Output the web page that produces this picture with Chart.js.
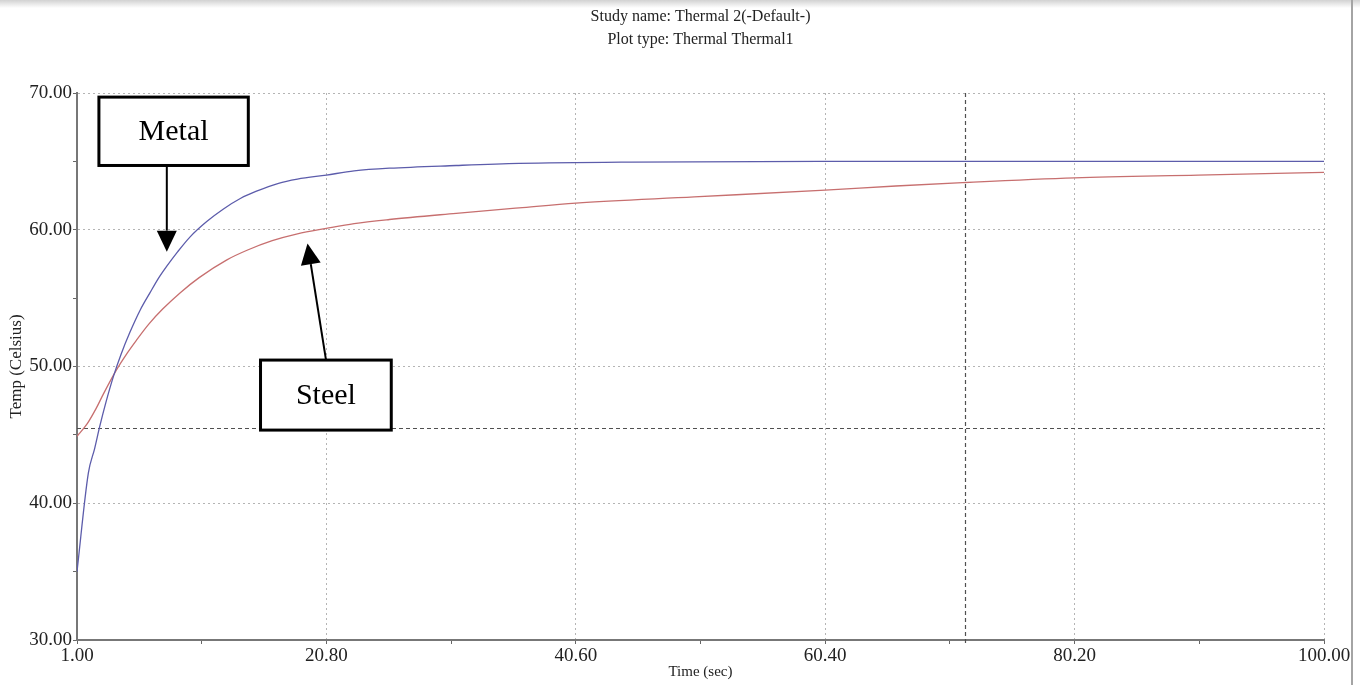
<!DOCTYPE html>
<html><head><meta charset="utf-8">
<script src="https://cdn.jsdelivr.net/npm/chart.js@4/dist/chart.umd.min.js"></script>
<style>
html,body{margin:0;padding:0;background:#fff;}
#wrap{position:relative;width:1360px;height:685px;overflow:hidden;background:#fff;}
#topshade{position:absolute;left:0;top:0;width:1360px;height:8px;background:linear-gradient(#d2d2d2,#ffffff);}
#rline{position:absolute;left:1351px;top:0;width:2px;height:685px;background:#a4a4a4;}
canvas{position:absolute;left:0;top:0;}
</style></head>
<body><div id="wrap"><div id="topshade"></div><div id="rline"></div><canvas id="c" width="1360" height="685"></canvas></div>
<script>
const titleLines = ['Study name: Thermal 2(-Default-)', 'Plot type: Thermal Thermal1'];
const xAxisTitle = 'Time (sec)';
const yAxisTitle = 'Temp (Celsius)';
const xTicksMajor = [1, 20.8, 40.6, 60.4, 80.2, 100];
const xTicksMinor = [10.9, 30.7, 50.5, 70.3, 90.1];
const yTicksMajor = [30, 40, 50, 60, 70];
const yTicksMinor = [35, 45, 55, 65];

const metalTime = [1, 1.9, 2.4, 2.8, 3.3, 3.9, 4.5, 5.2, 6.0, 6.8, 7.5, 8.1, 9.0, 10.0, 11.3, 12.6, 14.0, 15.2, 17.0, 18.5, 20.8, 23, 25.8, 31.1, 36.1, 45, 60, 80, 100];
const metalTemp = [35.0, 42.2, 44.0, 45.6, 47.4, 49.3, 50.9, 52.5, 54.1, 55.4, 56.5, 57.3, 58.4, 59.5, 60.6, 61.5, 62.3, 62.8, 63.4, 63.7, 64.0, 64.3, 64.5, 64.7, 64.85, 64.95, 65.0, 65.0, 65.0];

const steelTime = [1, 1.8, 2.5, 3.1, 4.1, 5.0, 5.7, 6.7, 7.8, 9.2, 10.7, 12.9, 14.5, 16.5, 18.5, 20.8, 23, 25.8, 31.1, 36.1, 40.6, 50, 60.4, 66, 71.3, 80.2, 90, 100];
const steelTemp = [44.9, 45.8, 46.9, 48.0, 49.7, 51.0, 51.9, 53.1, 54.2, 55.4, 56.5, 57.8, 58.5, 59.2, 59.7, 60.1, 60.45, 60.75, 61.2, 61.6, 61.95, 62.4, 62.9, 63.2, 63.45, 63.8, 64.0, 64.2];

const cursorTime = 71.5;
const cursorTemp = 45.5;

const calloutLabels = ['Metal', 'Steel'];

const SERIF = '"Liberation Serif", "Times New Roman", Times, serif';

// callouts in data coordinates: box corners, arrow start, arrow tip
const callouts = [
  { text: calloutLabels[0], box: [2.74, 69.7, 14.6, 64.7], from: [8.13, 64.7], to: [8.13, 58.4] },
  { text: calloutLabels[1], box: [15.57, 50.47, 25.95, 45.35], from: [20.77, 50.47], to: [19.3, 59.0] }
];

const isIn = (arr, v) => arr.some(a => Math.abs(a - v) < 1e-6);

const decorPlugin = {
  id: 'decor',
  beforeDatasetsDraw(chart) {
    const {ctx, chartArea: a, scales: {x, y}} = chart;
    ctx.save();
    ctx.strokeStyle = '#505050';
    ctx.lineWidth = 1.2;
    ctx.setLineDash([4, 3]);
    const px = Math.round(x.getPixelForValue(cursorTime)) + 0.5;
    const py = Math.round(y.getPixelForValue(cursorTemp)) + 0.5;
    ctx.beginPath();
    ctx.moveTo(px, a.top); ctx.lineTo(px, a.bottom + 3);
    ctx.moveTo(a.left, py); ctx.lineTo(a.right, py);
    ctx.stroke();
    ctx.restore();
  },
  afterDatasetsDraw(chart) {
    const {ctx, chartArea: a, scales: {x, y}} = chart;
    ctx.save();
    ctx.fillStyle = '#222';
    ctx.font = '16px ' + SERIF;
    ctx.textAlign = 'center';
    ctx.textBaseline = 'middle';
    const cx = (a.left + a.right) / 2;
    ctx.fillText(titleLines[0], cx, 17);
    ctx.fillText(titleLines[1], cx, 40);
    callouts.forEach(c => {
      const x1 = x.getPixelForValue(c.box[0]), y1 = y.getPixelForValue(c.box[1]);
      const x2 = x.getPixelForValue(c.box[2]), y2 = y.getPixelForValue(c.box[3]);
      ctx.fillStyle = '#fff';
      ctx.fillRect(x1, y1, x2 - x1, y2 - y1);
      ctx.strokeStyle = '#000';
      ctx.lineWidth = 3;
      ctx.setLineDash([]);
      ctx.strokeRect(x1, y1, x2 - x1, y2 - y1);
      ctx.fillStyle = '#000';
      ctx.font = '30px ' + SERIF;
      ctx.textAlign = 'center';
      ctx.textBaseline = 'middle';
      ctx.fillText(c.text, (x1 + x2) / 2, (y1 + y2) / 2 + 1);
      const fx = x.getPixelForValue(c.from[0]), fy = y.getPixelForValue(c.from[1]);
      const tx = x.getPixelForValue(c.to[0]), ty = y.getPixelForValue(c.to[1]);
      const ang = Math.atan2(ty - fy, tx - fx);
      const hl = 21, hw = 10;
      const bx = tx - hl * Math.cos(ang), by = ty - hl * Math.sin(ang);
      ctx.lineWidth = 2;
      ctx.beginPath(); ctx.moveTo(fx, fy); ctx.lineTo(bx, by); ctx.stroke();
      ctx.beginPath();
      ctx.moveTo(tx, ty);
      ctx.lineTo(bx + hw * Math.sin(ang), by - hw * Math.cos(ang));
      ctx.lineTo(bx - hw * Math.sin(ang), by + hw * Math.cos(ang));
      ctx.closePath(); ctx.fill();
    });
    ctx.restore();
  }
};

const tickFont = { family: SERIF, size: 19 };

new Chart(document.getElementById('c'), {
  type: 'line',
  data: {
    datasets: [
      {
        label: calloutLabels[0],
        data: metalTime.map((t, i) => ({ x: t, y: metalTemp[i] })),
        borderColor: '#5c5cab', borderWidth: 1.3, pointRadius: 0,
        cubicInterpolationMode: 'monotone', fill: false
      },
      {
        label: calloutLabels[1],
        data: steelTime.map((t, i) => ({ x: t, y: steelTemp[i] })),
        borderColor: '#c76f6f', borderWidth: 1.3, pointRadius: 0,
        cubicInterpolationMode: 'monotone', fill: false
      }
    ]
  },
  options: {
    responsive: false,
    animation: false,
    devicePixelRatio: 1,
    layout: { padding: { left: 0, top: 93, right: 36, bottom: 0 } },
    plugins: { legend: { display: false }, tooltip: { enabled: false }, title: { display: false } },
    scales: {
      x: {
        type: 'linear', min: 1, max: 100,
        afterBuildTicks: s => { s.ticks = [...xTicksMajor, ...xTicksMinor].sort((a, b) => a - b).map(v => ({ value: v })); },
        afterFit: s => { s.height = 45; s.paddingLeft = 0; s.paddingRight = 0; },
        ticks: {
          autoSkip: false, maxRotation: 0, padding: 1, color: '#222', font: tickFont,
          callback: v => isIn(xTicksMajor, v) ? v.toFixed(2) : ''
        },
        grid: {
          color: c => (c.tick && isIn(xTicksMajor, c.tick.value)) ? '#b4b4b4' : 'rgba(0,0,0,0)',
          tickColor: '#666', tickLength: 4, lineWidth: 1
        },
        border: { display: true, color: '#777', width: 2, dash: [2, 3] },
        title: { display: true, text: xAxisTitle, color: '#222', font: { family: SERIF, size: 15 }, padding: { top: 0, bottom: 4 } }
      },
      y: {
        type: 'linear', min: 30, max: 70,
        afterBuildTicks: s => { s.ticks = [...yTicksMajor, ...yTicksMinor].sort((a, b) => a - b).map(v => ({ value: v })); },
        afterFit: s => { s.width = 77; s.paddingTop = 0; s.paddingBottom = 0; },
        ticks: {
          autoSkip: false, padding: 1, color: '#222', font: tickFont,
          callback: v => isIn(yTicksMajor, v) ? v.toFixed(2) : ''
        },
        grid: {
          color: c => (c.tick && isIn(yTicksMajor, c.tick.value)) ? '#b4b4b4' : 'rgba(0,0,0,0)',
          tickColor: '#666', tickLength: 4, lineWidth: 1
        },
        border: { display: true, color: '#777', width: 2, dash: [2, 3] },
        title: { display: true, text: yAxisTitle, color: '#222', font: { family: SERIF, size: 17 }, padding: { top: 6, bottom: 0 } }
      }
    }
  },
  plugins: [decorPlugin]
});
</script>
</body></html>
